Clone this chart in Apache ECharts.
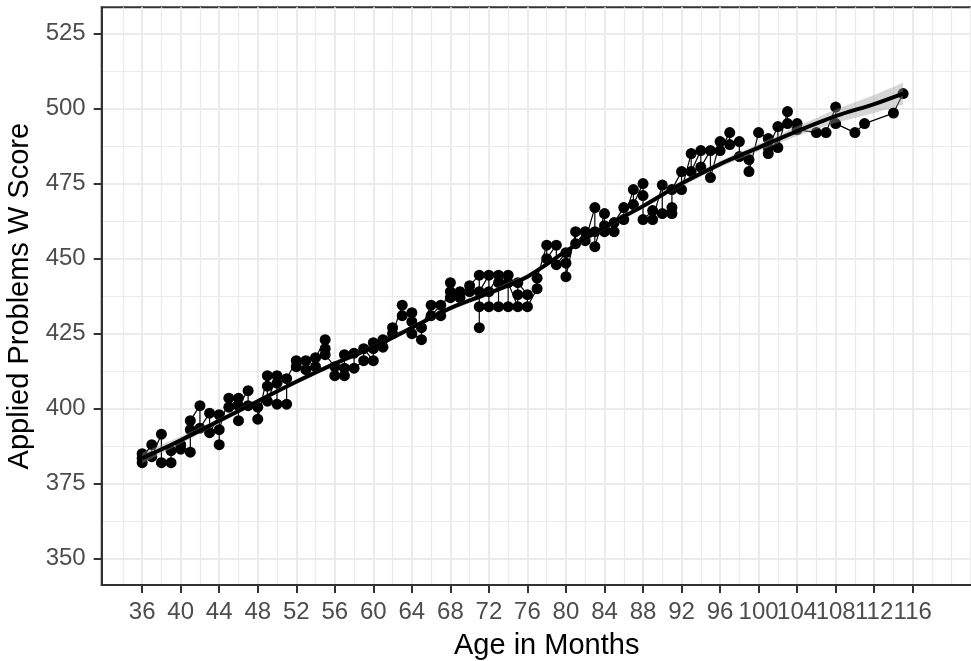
<!DOCTYPE html>
<html><head><meta charset="utf-8">
<script src="https://cdn.jsdelivr.net/npm/echarts@6/dist/echarts.min.js"></script>
<style>html,body{margin:0;padding:0;background:#fff}#c{width:971px;height:661px}</style>
</head><body><div id="c"></div>
<script>
// Observations: age (months) and the W scores observed at that age
const ageGroups = [36,37,38,39,40,41,42,43,44,45,46,47,48,49,50,51,52,53,54,55,56,57,58,59,60,61,62,63,64,65,66,67,68,69,70,71,72,73,74,75,76,77,78,79,80,81,82,83,84,85,86,87,88,89,90,91,92,93,94,95,96,97,98,99,100,101,102,103,104,106,107,108,110,111,114,115];
const scoreGroups = [
  [385,382,383.5],[388,384],[391.5,382],[382,386],[386.5,388],[385.5,393,396],[401,393.5],[398.5,392],[398,388,393],[403.5,400.5],
  [403.5,396,401],[406,401],[400.5,396.5],[411,407.5,402.5],[411,408.5,401.5],[401.5,410],[416,414],[416,413],[414,417],[423,420,418],
  [414,411],[411,413.5,418],[418.5,413.5],[416,420],[416,422,420],[423,420.5],[427,425],[434.5,431],[432,429,425],[423,427],
  [434.5,431],[434.5,431],[442,439,437],[439,437],[439,441],[444.5,434,427,439],[444.5,434,439],[444.5,434,442],[444.5,434,442],[434,438,442],
  [438,434],[440,443.5],[454.5,450],[454.5,448],[452,448.5,444],[459,455],[459,456],[467,459,454],[465,459,461],[459,462],
  [467,463],[473,468],[475,471,463],[466,463],[474.5,465],[467,465,473],[479,473],[485,479],[486,480.5],[486,477],
  [489,486],[492,488],[489,484],[483,479],[492],[490,485,487],[494,487],[499,495],[495,493],[492],
  [492],[500.5,495],[492],[495],[498.5],[505]
];
// Smoothed fit and half-width of its confidence band
const smoothAge = [36,40,44,48,52,56,60,64,68,72,76,80,84,88,92,96,100,104,108,112,115];
const smoothFit = [383.5,389.5,396,402.5,409,415,420.5,427,433.5,438.5,444,452.5,460.5,467.5,475,481.5,487,492.5,497.5,501.5,505];
const smoothHalf = [1.8,1.2,0.9,0.8,0.8,0.8,0.8,0.8,0.8,0.8,0.8,0.8,0.8,0.8,0.9,1.0,1.2,1.6,2.2,3.0,3.6];
// Axis ticks and grid lines
const xTickLabels = [36,40,44,48,52,56,60,64,68,72,76,80,84,88,92,96,100,104,108,112,116];
const xMinorGrid = [34,38,42,46,50,54,58,62,66,70,74,78,82,86,90,94,98,102,106,110,114,118,120,122];
const yTickLabels = [350,375,400,425,450,475,500,525];
const yMinorGrid = [362.5,387.5,412.5,437.5,462.5,487.5,512.5];

const points = [];
ageGroups.forEach((a, i) => scoreGroups[i].forEach(s => points.push([a, s])));
const bandData = smoothAge.map((a, i) => [a, smoothFit[i] - smoothHalf[i], smoothFit[i] + smoothHalf[i]]);
const fitLine = smoothAge.map((a, i) => [a, smoothFit[i]]);

const FONT = 'Liberation Sans, Arial, sans-serif';
const XMIN = 31.8, XMAX = 124.2, YMIN = 341.25, YMAX = 533.75;

const chart = echarts.init(document.getElementById('c'), null, {renderer: 'canvas'});
chart.setOption({
  animation: false,
  backgroundColor: '#fff',
  grid: {left: 101.7, top: 7.3, width: 890, height: 577.7, containLabel: false, outerBoundsMode: 'none',
         show: true, borderColor: '#333', borderWidth: 2, backgroundColor: '#fff'},
  xAxis: [
    {type: 'value', min: XMIN, max: XMAX, position: 'bottom',
     axisLine: {show: true, onZero: false, lineStyle: {color: '#333', width: 2}},
     axisTick: {show: true, length: 8, lineStyle: {color: '#333', width: 2}, customValues: xTickLabels},
     axisLabel: {customValues: xTickLabels, color: '#4d4d4d', fontSize: 24, fontFamily: FONT, margin: 15, hideOverlap: false},
     splitLine: {show: true, lineStyle: {color: '#ebebeb', width: 2}},
     name: 'Age in Months', nameLocation: 'middle', nameGap: 46,
     nameTextStyle: {color: '#000', fontSize: 29, fontFamily: FONT}},
    {type: 'value', min: XMIN, max: XMAX, position: 'bottom',
     axisLine: {show: false}, axisLabel: {show: false},
     axisTick: {show: false, customValues: xMinorGrid},
     splitLine: {show: true, lineStyle: {color: '#ebebeb', width: 1.2}}}
  ],
  yAxis: [
    {type: 'value', min: YMIN, max: YMAX, position: 'left',
     axisLine: {show: true, onZero: false, lineStyle: {color: '#333', width: 2}},
     axisTick: {show: true, length: 8, lineStyle: {color: '#333', width: 2}, customValues: yTickLabels},
     axisLabel: {customValues: yTickLabels, color: '#4d4d4d', fontSize: 24, fontFamily: FONT, margin: 16, hideOverlap: false},
     splitLine: {show: true, lineStyle: {color: '#ebebeb', width: 2}},
     name: 'Applied Problems W Score', nameLocation: 'middle', nameGap: 58,
     nameTextStyle: {color: '#000', fontSize: 29, fontFamily: FONT}},
    {type: 'value', min: YMIN, max: YMAX, position: 'left',
     axisLine: {show: false}, axisLabel: {show: false},
     axisTick: {show: false, customValues: yMinorGrid},
     splitLine: {show: true, lineStyle: {color: '#ebebeb', width: 1.2}}}
  ],
  series: [
    {type: 'line', data: points, xAxisIndex: 0, yAxisIndex: 0, symbol: 'circle', symbolSize: 11, showSymbol: true,
     itemStyle: {color: '#000', borderWidth: 0}, lineStyle: {color: '#000', width: 1.2}, z: 3, silent: true},
    {type: 'custom', data: bandData, xAxisIndex: 0, yAxisIndex: 0, z: 4, silent: true, clip: true,
     encode: {x: 0, y: [1, 2]},
     renderItem: function (params, api) {
       if (params.dataIndex !== 0) return null;
       const lower = [], upper = [];
       for (let i = 0; i < bandData.length; i++) {
         lower.push(api.coord([bandData[i][0], bandData[i][1]]));
         upper.push(api.coord([bandData[i][0], bandData[i][2]]));
       }
       return {type: 'polygon', shape: {points: lower.concat(upper.reverse()), smooth: 0},
               style: {fill: 'rgba(153,153,153,0.4)', stroke: null}};
     }},
    {type: 'line', data: fitLine, smooth: 0.3, symbol: 'none',
     lineStyle: {color: '#000', width: 4}, z: 5, silent: true}
  ]
});
</script></body></html>
